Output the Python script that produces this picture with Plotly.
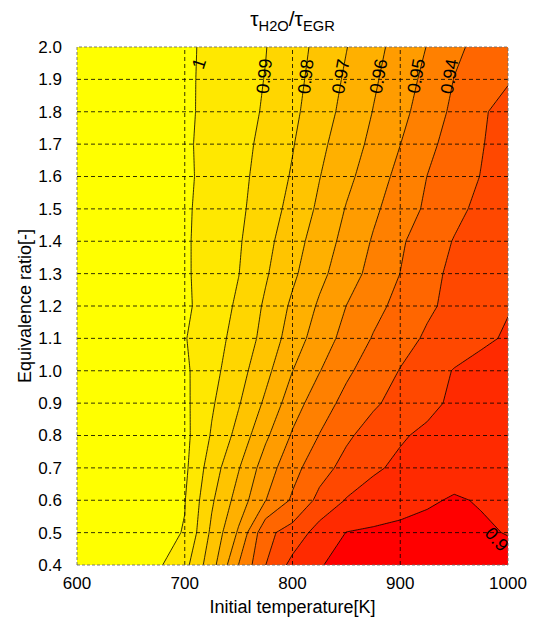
import plotly.graph_objects as go

# Initial temperature [K] (grid columns) and equivalence ratio (grid rows)
temperature = [600, 625, 650, 675, 700, 725, 750, 775, 800, 825, 850, 875, 900, 925, 950, 975, 1000]
equiv_ratio = [0.4, 0.5, 0.6, 0.7, 0.8, 0.9, 1.0, 1.1, 1.2, 1.3, 1.4, 1.5, 1.6, 1.7, 1.8, 1.9, 2.0]

# tau_H2O / tau_EGR (one row per equivalence ratio)
tau_ratio = [
    [1.003, 1.003, 1.003, 1.0015, 0.9932, 0.9740, 0.9498, 0.9301, 0.9170, 0.9103, 0.9085, 0.9075, 0.9068, 0.9063, 0.9060, 0.9060, 0.9065],
    [1.003, 1.003, 1.003, 1.003, 0.9995, 0.9779, 0.9586, 0.9324, 0.9262, 0.9158, 0.9098, 0.9085, 0.9075, 0.9072, 0.9075, 0.9088, 0.9104],
    [1.003, 1.003, 1.003, 1.003, 1.0004, 0.9814, 0.9657, 0.9502, 0.9386, 0.9274, 0.9194, 0.9167, 0.9139, 0.9111, 0.9092, 0.9106, 0.9108],
    [1.003, 1.003, 1.003, 1.003, 1.0021, 0.9850, 0.9706, 0.9550, 0.9433, 0.9339, 0.9268, 0.9211, 0.9185, 0.9165, 0.9135, 0.9125, 0.9120],
    [1.003, 1.003, 1.003, 1.003, 1.0028, 0.9891, 0.9767, 0.9618, 0.9489, 0.9397, 0.9316, 0.9259, 0.9208, 0.9185, 0.9166, 0.9148, 0.9129],
    [1.003, 1.003, 1.003, 1.003, 1.0022, 0.9912, 0.9808, 0.9682, 0.9545, 0.9445, 0.9372, 0.9314, 0.9266, 0.9220, 0.9186, 0.9161, 0.9136],
    [1.003, 1.003, 1.003, 1.003, 1.0017, 0.9931, 0.9839, 0.9729, 0.9601, 0.9504, 0.9417, 0.9354, 0.9296, 0.9244, 0.9195, 0.9164, 0.9133],
    [1.003, 1.003, 1.003, 1.003, 1.0005, 0.9941, 0.9866, 0.9767, 0.9653, 0.9550, 0.9468, 0.9393, 0.9335, 0.9287, 0.9253, 0.9220, 0.9188],
    [1.003, 1.003, 1.003, 1.003, 1.0018, 0.9954, 0.9884, 0.9785, 0.9682, 0.9586, 0.9499, 0.9431, 0.9370, 0.9315, 0.9275, 0.9240, 0.9206],
    [1.003, 1.003, 1.003, 1.003, 1.0013, 0.9958, 0.9902, 0.9811, 0.9719, 0.9626, 0.9544, 0.9469, 0.9399, 0.9328, 0.9280, 0.9247, 0.9213],
    [1.003, 1.003, 1.003, 1.003, 1.0012, 0.9961, 0.9910, 0.9829, 0.9741, 0.9654, 0.9569, 0.9491, 0.9413, 0.9351, 0.9295, 0.9254, 0.9213],
    [1.003, 1.003, 1.003, 1.003, 1.0013, 0.9966, 0.9919, 0.9851, 0.9768, 0.9682, 0.9594, 0.9518, 0.9449, 0.9384, 0.9326, 0.9276, 0.9234],
    [1.003, 1.003, 1.003, 1.003, 1.0017, 0.9970, 0.9924, 0.9865, 0.9790, 0.9703, 0.9625, 0.9548, 0.9472, 0.9399, 0.9348, 0.9297, 0.9247],
    [1.003, 1.003, 1.003, 1.003, 1.0014, 0.9971, 0.9929, 0.9877, 0.9806, 0.9723, 0.9649, 0.9576, 0.9501, 0.9424, 0.9362, 0.9307, 0.9251],
    [1.003, 1.003, 1.003, 1.003, 1.0016, 0.9976, 0.9935, 0.9890, 0.9822, 0.9746, 0.9670, 0.9597, 0.9528, 0.9453, 0.9380, 0.9317, 0.9254],
    [1.003, 1.003, 1.003, 1.003, 1.0016, 0.9977, 0.9938, 0.9897, 0.9832, 0.9761, 0.9686, 0.9614, 0.9546, 0.9475, 0.9398, 0.9354, 0.9311],
    [1.003, 1.003, 1.003, 1.003, 1.0017, 0.9979, 0.9941, 0.9903, 0.9841, 0.9774, 0.9703, 0.9631, 0.9563, 0.9497, 0.9419, 0.9374, 0.9341],
]

# contour levels
level_start = 0.90
level_end = 1.00
level_step = 0.01

# band colours, from the lowest band (red) to above 1 (yellow)
band_colors = ["#FF0000", "#FF0000", "#FF2A00", "#FF4800", "#FF6600", "#FF8000",
               "#FF9C00", "#FFB000", "#FFC400", "#FFD600", "#FFE800", "#FFFF00"]

# contour labels
label_text = ["1", "0.99", "0.98", "0.97", "0.96", "0.95", "0.94", "0.9"]
label_temp = [713, 774, 812.5, 845, 880, 915, 946, 989]
label_phi = [1.948, 1.91, 1.91, 1.91, 1.91, 1.91, 1.91, 0.48]
label_angle = [-72, -84, -84, -80, -80, -80, -80, 48]

# axis ticks
x_ticks = [600, 700, 800, 900, 1000]
y_ticks = [0.4, 0.5, 0.6, 0.7, 0.8, 0.9, 1.0, 1.1, 1.2, 1.3, 1.4, 1.5, 1.6, 1.7, 1.8, 1.9, 2.0]

FONT = "Liberation Sans, Arial, sans-serif"

n = len(band_colors)
colorscale = [[i / (n - 1), c] for i, c in enumerate(band_colors)]

fig = go.Figure()
fig.add_trace(go.Contour(
    x=temperature, y=equiv_ratio, z=tau_ratio,
    colorscale=colorscale, showscale=False,
    contours=dict(start=level_start, end=level_end, size=level_step,
                  coloring="fill", showlines=True),
    line=dict(color="black", width=0.8, smoothing=0),
    hoverinfo="skip",
))

for t, xv, yv, ang in zip(label_text, label_temp, label_phi, label_angle):
    fig.add_annotation(x=xv, y=yv, text=t, showarrow=False, textangle=ang,
                       font=dict(family=FONT, size=18, color="black"))

grid_style = dict(color="rgba(0,0,0,0.8)", width=1, dash="4px,3px")
for xv in x_ticks[1:-1]:
    fig.add_shape(type="line", x0=xv, x1=xv, y0=0, y1=1, xref="x", yref="paper",
                  line=grid_style, layer="above")
for yv in y_ticks[1:-1]:
    fig.add_shape(type="line", x0=0, x1=1, y0=yv, y1=yv, xref="paper", yref="y",
                  line=grid_style, layer="above")
fig.add_shape(type="rect", x0=0, x1=1, y0=0, y1=1, xref="paper", yref="paper",
              line=dict(color="rgba(110,110,110,0.9)", width=1, dash="3px,2px"),
              layer="above")

fig.update_layout(
    width=539, height=633, autosize=False,
    margin=dict(l=77, r=28, t=47, b=68),
    paper_bgcolor="white", plot_bgcolor="white",
    font=dict(family=FONT, size=17, color="black"),
    title=dict(text="τ<sub>H2O</sub>/τ<sub>EGR</sub>", x=0.5, xref="paper",
               y=1 - 19 / 633, yref="container", yanchor="middle",
               font=dict(family=FONT, size=21, color="black")),
    xaxis=dict(range=[600, 1000], tickvals=x_ticks, ticktext=[str(v) for v in x_ticks],
               showgrid=False, zeroline=False, showline=False, ticks="",
               ticklabelstandoff=6,
               title=dict(text="Initial temperature[K]", standoff=8,
                          font=dict(family=FONT, size=18))),
    yaxis=dict(range=[0.4, 2.0], tickvals=y_ticks, ticktext=[f"{v:.1f}" for v in y_ticks],
               showgrid=False, zeroline=False, showline=False, ticks="",
               ticklabelstandoff=14,
               title=dict(text="Equivalence ratio[-]", standoff=2,
                          font=dict(family=FONT, size=18))),
)

fig.write_html("out.html", post_script="document.body.style.margin='0';",
               config={"displayModeBar": False})
